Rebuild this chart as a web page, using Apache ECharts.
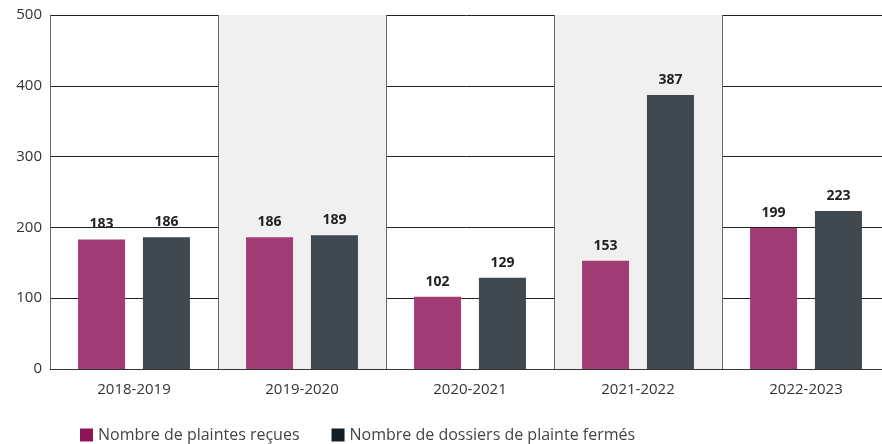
<!DOCTYPE html>
<html>
<head>
<meta charset="utf-8">
<script src="https://cdn.jsdelivr.net/npm/echarts@6/dist/echarts.min.js"></script>
<style>
  html, body { margin: 0; padding: 0; background: #fff; }
  #chart { width: 882px; height: 444px; }
</style>
</head>
<body>
<div id="chart"></div>
<script>
// Plaintes reçues et dossiers fermés par exercice
const categories = ['2018-2019', '2019-2020', '2020-2021', '2021-2022', '2022-2023'];
const plaintesRecues = [183, 186, 102, 153, 199];
const dossiersFermes = [186, 189, 129, 387, 223];
const seriesNames = ['Nombre de plaintes reçues', 'Nombre de dossiers de plainte fermés'];
const yTicks = [0, 100, 200, 300, 400, 500];

const FONT = 'Open Sans';
const chart = echarts.init(document.getElementById('chart'), null, { renderer: 'canvas' });

const labelStyle = {
  show: true,
  position: 'top',
  distance: 8,
  color: '#222',
  fontFamily: FONT,
  fontWeight: 'bold',
  fontSize: 14
};

chart.setOption({
  animation: false,
  backgroundColor: '#fff',
  textStyle: { fontFamily: FONT },
  // the last band runs slightly past the right edge of the canvas
  grid: { left: 50, width: 840, top: 15, bottom: 75, containLabel: false, outerBoundsMode: 'none' },
  legend: {
    left: 75,
    top: 422,
    icon: 'rect',
    itemWidth: 13,
    itemHeight: 13,
    itemGap: 32,
    textStyle: { color: '#444', fontSize: 16, lineHeight: 16, fontFamily: FONT },
    data: [
      { name: seriesNames[0], itemStyle: { color: '#8e1458' } },
      { name: seriesNames[1], itemStyle: { color: '#141c24' } }
    ]
  },
  xAxis: {
    type: 'category',
    data: categories,
    axisLine: { show: true, lineStyle: { color: '#333', width: 1 } },
    axisTick: { show: false },
    axisLabel: { color: '#333', fontSize: 15, fontFamily: FONT, margin: 13 },
    splitLine: { show: true, lineStyle: { color: '#666', width: 1 } },
    splitArea: { show: true, areaStyle: { color: ['rgba(255,255,255,0)', '#f0f0f0'] } }
  },
  yAxis: {
    type: 'value',
    min: yTicks[0],
    max: yTicks[yTicks.length - 1],
    interval: 100,
    axisLine: { show: true, lineStyle: { color: '#666', width: 1 } },
    axisTick: { show: false },
    axisLabel: { color: '#333', fontSize: 15, fontFamily: FONT, margin: 8 },
    splitLine: { show: true, lineStyle: { color: '#222', width: 1 } }
  },
  series: [
    {
      name: seriesNames[0],
      type: 'bar',
      data: plaintesRecues,
      barWidth: 47,
      barGap: '38%',
      itemStyle: { color: '#a23c74' },
      label: labelStyle
    },
    {
      name: seriesNames[1],
      type: 'bar',
      data: dossiersFermes,
      barWidth: 47,
      barGap: '38%',
      itemStyle: { color: '#3f474f' },
      label: labelStyle
    }
  ]
});
</script>
</body>
</html>
